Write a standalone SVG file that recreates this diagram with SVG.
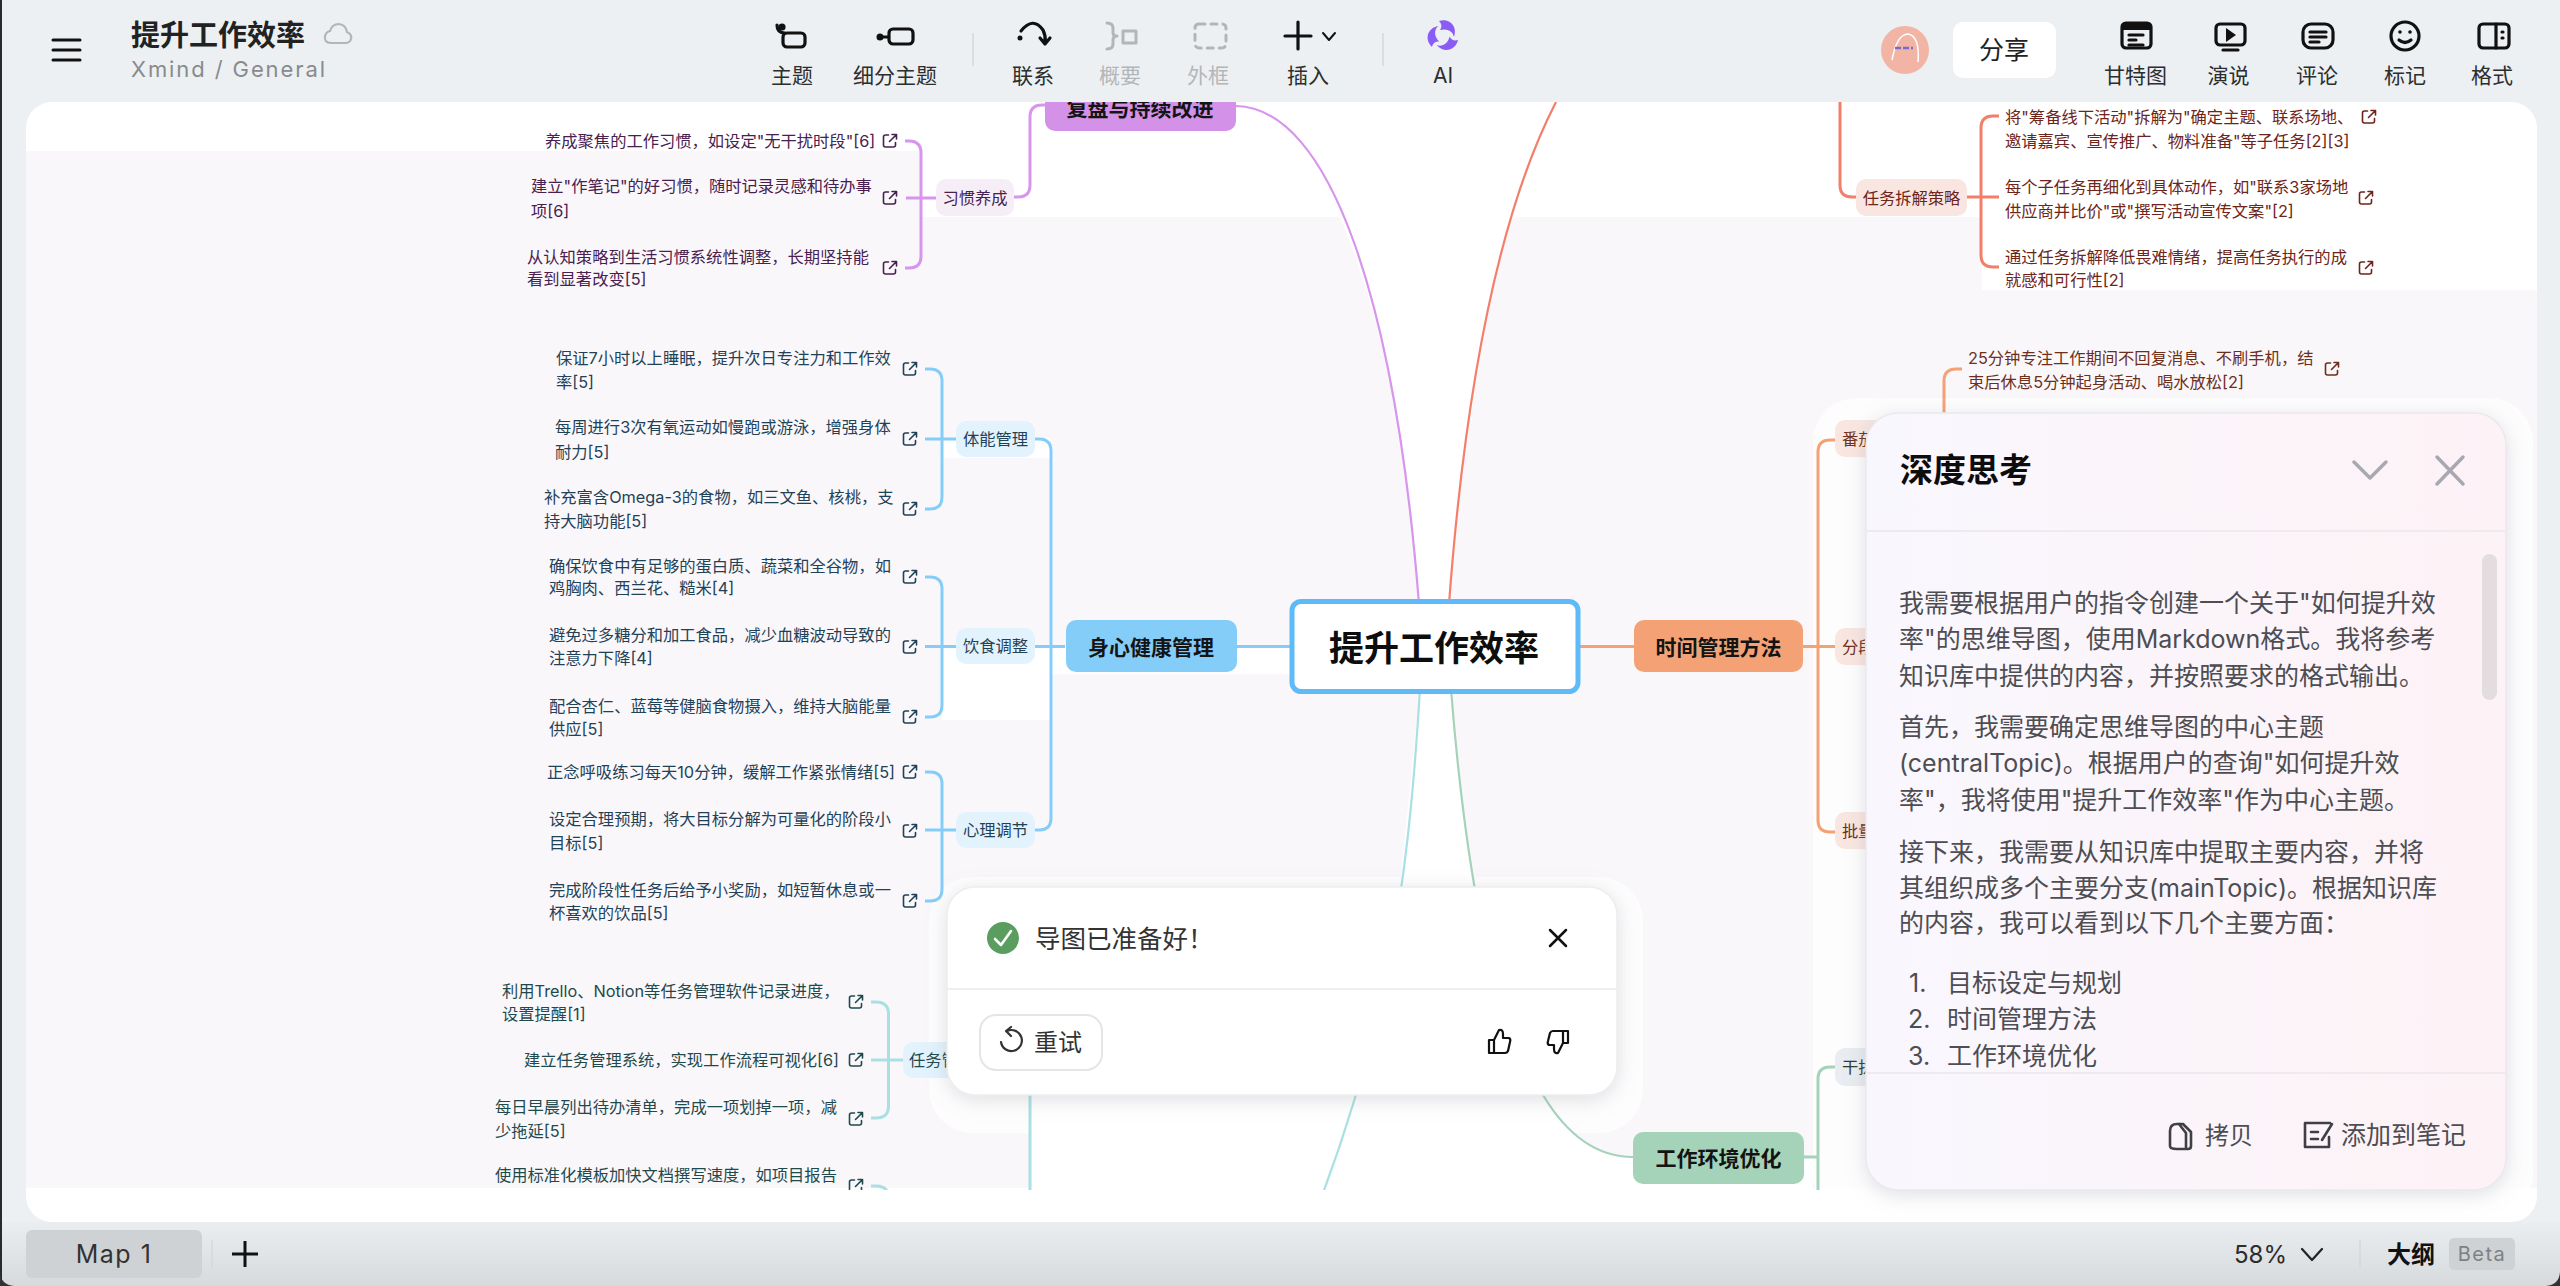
<svg xmlns="http://www.w3.org/2000/svg" width="2560" height="1286" viewBox="0 0 2560 1286">
<style>
text{font-family:"Inter","Noto Sans CJK SC",sans-serif;dominant-baseline:central}
.leaf{font-size:16.3px}
.sub{font-size:16.3px;text-anchor:middle}
.main{font-size:21px;font-weight:700;text-anchor:middle;fill:#141414}
.blue{fill:#1f4257}.blue-l{stroke:#85cdf9}
.teal{fill:#1e4a4d}.teal-l{stroke:#a9e0e3}
.pur{fill:#48204f}.pur-l{stroke:#d795ec}
.red{fill:#6e2418}.red-l{stroke:#f37f6b}
.org{fill:#6e2f1a}.org-l{stroke:#f4a275}
.grn-l{stroke:#a5d3b9}
.conn path{fill:none;stroke-width:3}
.conn path.thin{stroke-width:2.2}
.tb{font-size:21px;text-anchor:middle;fill:#2b2d2f}
.off{fill:#b3b6b9}
.ti{fill:none;stroke:#111;stroke-width:3.2;stroke-linecap:round;stroke-linejoin:round}
.tg{fill:none;stroke:#b3b6b9;stroke-width:3;stroke-linecap:round;stroke-linejoin:round}
.p{font-size:25px;fill:#4d4d52}
.lc{fill:none;stroke:#3f3f44;stroke-width:2.6;stroke-linecap:round;stroke-linejoin:round}
</style>
<defs>
<g id="ext" fill="none" stroke-width="1.6" stroke-linecap="round" stroke-linejoin="round"><path d="M-1.5 -6H-4.5Q-6.5 -6 -6.5 -4V4Q-6.5 6 -4.5 6H3.5Q5.5 6 5.5 4V1.5M-0.5 0.5L6 -6M2 -6.5H6.5V-2"/></g>
<path id="petal" d="M-4 -15C6 -18 15 -10 11 1C10 -5 4 -8 -3 -6C-1 -9 -1 -12 -4 -15Z" fill="#8a5cf5"/>
<linearGradient id="bar" x1="0" y1="0" x2="0" y2="1"><stop offset="0" stop-color="#eaeef0"/><stop offset="1" stop-color="#d6dadd"/></linearGradient>
<linearGradient id="pan" x1="0" y1="0" x2="1" y2="0"><stop offset="0" stop-color="#f9f7fe"/><stop offset="1" stop-color="#fdf2f6"/></linearGradient>
<filter id="sh" x="-10%" y="-15%" width="120%" height="130%"><feDropShadow dx="0" dy="4" stdDeviation="10" flood-color="#8a8f98" flood-opacity=".28"/></filter>
<clipPath id="cv"><rect x="26" y="102" width="2511" height="1088"/></clipPath>
</defs>
<rect width="2560" height="1286" fill="#ecf0f3"/>
<rect y="1222" width="2560" height="64" fill="url(#bar)"/>
<rect x="0" y="0" width="2" height="1286" fill="#2a2a2a"/>
<path d="M0 1286V1272Q1 1285 14 1286ZM2560 1286V1272Q2559 1285 2546 1286Z" fill="#333"/>
<rect x="26" y="102" width="2511" height="1120" rx="26" fill="#fff"/>
<g clip-path="url(#cv)">
<rect x="26" y="151" width="2511" height="1037" fill="#faf7fb"/>
<path fill="#fff" d="M921 151H1982V217H921ZM1982 151H2537V290H1982ZM1340 217C1380 310 1410 450 1419 604H1449C1460 480 1480 330 1510 217ZM1420 689H1451C1462 830 1490 1040 1543 1095C1570 1140 1600 1157 1633 1157V1190H1030V1097L1400 885ZM942 438H1050V458H942ZM942 647H1050V720H942ZM1052 647H1290V674H1052Z"/>
<rect x="1633" y="1157" width="180" height="33" fill="#fff"/>
<rect x="929" y="877" width="714" height="256" rx="44" fill="#fff" opacity=".75"/>
<rect x="1813" y="398" width="720" height="820" rx="44" fill="#fff" opacity=".75"/>
<g id="connectors" class="conn">
<path class="pur-l thin" d="M1236 106C1330 108 1395 300 1419 604"/>
<path class="red-l thin" d="M1449 604C1462 430 1490 230 1556 102"/>
<path class="teal-l thin" d="M1420 689C1410 850 1395 1000 1323 1193"/>
<path class="grn-l thin" d="M1451 689C1462 830 1490 1040 1543 1095C1570 1140 1600 1157 1633 1157"/>
<path class="blue-l" d="M1236 646.500H1290"/>
<path class="org-l" d="M1580 646.500H1634"/>
<path class="pur-l" d="M1045 105H1042Q1030 105 1030 117V185Q1030 197 1018 197H1014"/>
<path class="pur-l" d="M936 198H906M905 141H909Q921 141 921 153V256Q921 268 909 268H905"/>
<path class="blue-l" d="M1065 646.500H1035M1035 439H1039Q1051 439 1051 451V818Q1051 830 1039 830H1035"/>
<path class="blue-l" d="M956 439H925M925 369H930Q942 369 942 381V497Q942 509 930 509H925"/>
<path class="blue-l" d="M956 646.500H925M925 577H930Q942 577 942 589V705Q942 717 930 717H925"/>
<path class="blue-l" d="M956 830H925M925 772H930Q942 772 942 784V889Q942 901 930 901H925"/>
<path class="teal-l" d="M903 1060H871M871 1002H876Q888.500 1002 888.500 1014V1106Q888.500 1118 876 1118H871M871 1186H876Q888.500 1186 888.500 1198M1030 1060V1200"/>
<path class="red-l" d="M1840 102V185Q1840 197 1852 197H1856"/>
<path class="red-l" d="M1967 197H1999M1999 116H1993Q1981 116 1981 128V255Q1981 267 1993 267H1999"/>
<path class="org-l" d="M1803 646.500H1835M1835 440H1830Q1818 440 1818 452V820Q1818 832 1830 832H1835"/>
<path class="org-l" d="M1962 369H1956Q1944 369 1944 381V420"/>
<path class="grn-l" d="M1804 1157H1818M1835 1067H1830Q1818 1067 1818 1079V1200"/>
</g>
<g id="n-review"><rect x="1045" y="70" width="191" height="61" rx="10" fill="#d391e8"/><text class="main" x="1140" y="108">复盘与持续改进</text></g>
<g id="n-habit"><rect x="936" y="179" width="78" height="37" rx="10" fill="#f6eef7"/><text class="sub pur" x="975" y="198">习惯养成</text></g>
<g id="l-h1" class="pur"><text class="leaf" x="545" y="141">养成聚焦的工作习惯，如设定"无干扰时段"[6]</text><use href="#ext" x="890" y="141" stroke="#48204f"/></g>
<g id="l-h2" class="pur"><text class="leaf" x="531" y="186">建立"作笔记"的好习惯，随时记录灵感和待办事</text><text class="leaf" x="531" y="211">项[6]</text><use href="#ext" x="890" y="198" stroke="#48204f"/></g>
<g id="l-h3" class="pur"><text class="leaf" x="527" y="257">从认知策略到生活习惯系统性调整，长期坚持能</text><text class="leaf" x="527" y="279">看到显著改变[5]</text><use href="#ext" x="890" y="268" stroke="#48204f"/></g>

<g id="n-health"><rect x="1066" y="620" width="171" height="52" rx="10" fill="#85cdf9"/><text class="main" x="1151" y="647">身心健康管理</text></g>
<g id="n-body"><rect x="956" y="421" width="79" height="36" rx="10" fill="#e3f3fd"/><text class="sub blue" x="995.500" y="439">体能管理</text></g>
<g id="n-diet"><rect x="956" y="628" width="79" height="36" rx="10" fill="#e3f3fd"/><text class="sub blue" x="995.500" y="646">饮食调整</text></g>
<g id="n-mind"><rect x="956" y="812" width="79" height="36" rx="10" fill="#e3f3fd"/><text class="sub blue" x="995.500" y="830">心理调节</text></g>
<g id="l-b1" class="blue"><text class="leaf" x="556" y="358">保证7小时以上睡眠，提升次日专注力和工作效</text><text class="leaf" x="556" y="382">率[5]</text><use href="#ext" x="910" y="369" stroke="#1f4257"/></g>
<g id="l-b2" class="blue"><text class="leaf" x="555" y="427">每周进行3次有氧运动如慢跑或游泳，增强身体</text><text class="leaf" x="555" y="452">耐力[5]</text><use href="#ext" x="910" y="439" stroke="#1f4257"/></g>
<g id="l-b3" class="blue"><text class="leaf" x="544" y="497">补充富含Omega-3的食物，如三文鱼、核桃，支</text><text class="leaf" x="544" y="521">持大脑功能[5]</text><use href="#ext" x="910" y="509" stroke="#1f4257"/></g>
<g id="l-d1" class="blue"><text class="leaf" x="549" y="566">确保饮食中有足够的蛋白质、蔬菜和全谷物，如</text><text class="leaf" x="549" y="588">鸡胸肉、西兰花、糙米[4]</text><use href="#ext" x="910" y="577" stroke="#1f4257"/></g>
<g id="l-d2" class="blue"><text class="leaf" x="549" y="635">避免过多糖分和加工食品，减少血糖波动导致的</text><text class="leaf" x="549" y="658">注意力下降[4]</text><use href="#ext" x="910" y="647" stroke="#1f4257"/></g>
<g id="l-d3" class="blue"><text class="leaf" x="549" y="706">配合杏仁、蓝莓等健脑食物摄入，维持大脑能量</text><text class="leaf" x="549" y="729">供应[5]</text><use href="#ext" x="910" y="717" stroke="#1f4257"/></g>
<g id="l-m1" class="blue"><text class="leaf" x="547" y="772">正念呼吸练习每天10分钟，缓解工作紧张情绪[5]</text><use href="#ext" x="910" y="772" stroke="#1f4257"/></g>
<g id="l-m2" class="blue"><text class="leaf" x="549" y="819">设定合理预期，将大目标分解为可量化的阶段小</text><text class="leaf" x="549" y="843">目标[5]</text><use href="#ext" x="910" y="831" stroke="#1f4257"/></g>
<g id="l-m3" class="blue"><text class="leaf" x="549" y="890">完成阶段性任务后给予小奖励，如短暂休息或一</text><text class="leaf" x="549" y="913">杯喜欢的饮品[5]</text><use href="#ext" x="910" y="901" stroke="#1f4257"/></g>

<g id="n-task"><rect x="903" y="1042" width="90" height="36" rx="10" fill="#e3f3fd"/><text class="leaf teal" x="909" y="1060">任务管</text></g>
<g id="l-t1" class="teal"><text class="leaf" x="502" y="991">利用Trello、Notion等任务管理软件记录进度，</text><text class="leaf" x="502" y="1014">设置提醒[1]</text><use href="#ext" x="856" y="1002" stroke="#1e4a4d"/></g>
<g id="l-t2" class="teal"><text class="leaf" x="524" y="1060">建立任务管理系统，实现工作流程可视化[6]</text><use href="#ext" x="856" y="1060" stroke="#1e4a4d"/></g>
<g id="l-t3" class="teal"><text class="leaf" x="495" y="1107">每日早晨列出待办清单，完成一项划掉一项，减</text><text class="leaf" x="495" y="1131">少拖延[5]</text><use href="#ext" x="856" y="1119" stroke="#1e4a4d"/></g>
<g id="l-t4" class="teal"><text class="leaf" x="495" y="1175">使用标准化模板加快文档撰写速度，如项目报告</text><use href="#ext" x="856" y="1186" stroke="#1e4a4d"/></g>

<g id="n-center"><rect x="1292" y="601.500" width="286" height="90" rx="9" fill="#fff" stroke="#5ebbf8" stroke-width="5"/><text x="1434" y="647.500" font-size="35" font-weight="700" text-anchor="middle" fill="#0d0d0d">提升工作效率</text></g>
<g id="n-time"><rect x="1634" y="620" width="169" height="52" rx="10" fill="#f4a275"/><text class="main" x="1718.500" y="647">时间管理方法</text></g>
<g id="n-env"><rect x="1633" y="1132" width="171" height="52" rx="10" fill="#a5d3b9"/><text class="main" x="1718.500" y="1158">工作环境优化</text></g>
<g id="n-pomo"><rect x="1835" y="420" width="80" height="37" rx="10" fill="#f9e6e1"/><text class="leaf org" x="1842" y="439">番茄</text></g>
<g id="n-seg"><rect x="1835" y="628" width="80" height="37" rx="10" fill="#f9e6e1"/><text class="leaf org" x="1842" y="647">分段</text></g>
<g id="n-batch"><rect x="1835" y="812" width="80" height="37" rx="10" fill="#f9e6e1"/><text class="leaf org" x="1842" y="831">批量</text></g>
<g id="n-dist"><rect x="1835" y="1048" width="80" height="38" rx="10" fill="#e9ecf0"/><text class="leaf" fill="#2c3a33" x="1842" y="1067">干扰</text></g>
<g id="n-split"><rect x="1856" y="179" width="111" height="37" rx="10" fill="#f9e6e1"/><text class="sub red" x="1911.500" y="198">任务拆解策略</text></g>
<g id="l-s1" class="red"><text class="leaf" x="2005" y="117">将"筹备线下活动"拆解为"确定主题、联系场地、</text><text class="leaf" x="2005" y="141">邀请嘉宾、宣传推广、物料准备"等子任务[2][3]</text><use href="#ext" x="2369" y="117" stroke="#6e2418"/></g>
<g id="l-s2" class="red"><text class="leaf" x="2005" y="187">每个子任务再细化到具体动作，如"联系3家场地</text><text class="leaf" x="2005" y="211">供应商并比价"或"撰写活动宣传文案"[2]</text><use href="#ext" x="2366" y="198" stroke="#6e2418"/></g>
<g id="l-s3" class="red"><text class="leaf" x="2005" y="257">通过任务拆解降低畏难情绪，提高任务执行的成</text><text class="leaf" x="2005" y="280">就感和可行性[2]</text><use href="#ext" x="2366" y="268" stroke="#6e2418"/></g>
<g id="l-p1" class="org"><text class="leaf" x="1968" y="358">25分钟专注工作期间不回复消息、不刷手机，结</text><text class="leaf" x="1968" y="382">束后休息5分钟起身活动、喝水放松[2]</text><use href="#ext" x="2332" y="369" stroke="#6e2f1a"/></g>
</g>

<g id="toast">
<rect x="947" y="887" width="670" height="208" rx="28" fill="#fff" stroke="#eceded" stroke-width="1.500" filter="url(#sh)"/>
<circle cx="1003" cy="938" r="16" fill="#5a9e5f"/><path d="M995 939L1001 945L1011 931" fill="none" stroke="#fff" stroke-width="2.600" stroke-linecap="round" stroke-linejoin="round"/>
<text x="1035" y="938" font-size="25.500" fill="#333">导图已准备好！</text>
<path d="M1550 930L1566 946M1566 930L1550 946" stroke="#111" stroke-width="2.500" stroke-linecap="round"/>
<path d="M947 989H1617" stroke="#eceef0" stroke-width="2"/>
<rect x="980" y="1015" width="122" height="55" rx="16" fill="#fff" stroke="#e3e6e5" stroke-width="2"/>
<path d="M1007 1031A10.500 10.500 0 1 1 1001 1042M1011 1027L1006 1031L1011 1036" fill="none" stroke="#333" stroke-width="2.200" stroke-linecap="round" stroke-linejoin="round"/>
<text x="1034" y="1042" font-size="24" fill="#333">重试</text>
<path d="M1489 1040H1494V1053H1489ZM1494 1040L1499 1030Q1503 1029 1503 1034V1038H1509Q1511 1039 1510 1042L1508 1051Q1507 1053 1505 1053H1494" fill="none" stroke="#111" stroke-width="2.200" stroke-linejoin="round"/>
<path d="M1568 1043H1563V1031H1568ZM1563 1043L1558 1053Q1554 1054 1554 1049V1045H1549Q1547 1044 1548 1041L1550 1033Q1551 1031 1553 1031H1563" fill="none" stroke="#111" stroke-width="2.200" stroke-linejoin="round"/>
</g>

<g id="panel">
<rect x="1866" y="413" width="640" height="777" rx="32" fill="url(#pan)" stroke="#e9e9ee" stroke-width="1.500" filter="url(#sh)"/>
<text x="1900" y="470" font-size="33" font-weight="700" fill="#0d0d0d">深度思考</text>
<path d="M2354 462L2370 478L2386 462M2437 457L2463 484M2463 457L2437 484" fill="none" stroke="#a9a8b1" stroke-width="3.500" stroke-linecap="round" stroke-linejoin="round"/>
<path d="M1866 531H2506M1866 1073H2506" stroke="#f0eaf0" stroke-width="2"/>
<rect x="2482" y="554" width="15" height="146" rx="7.500" fill="#e3dde0"/>
<text class="p" x="1899" y="603">我需要根据用户的指令创建一个关于"如何提升效</text>
<text class="p" x="1899" y="639">率"的思维导图，使用Markdown格式。我将参考</text>
<text class="p" x="1899" y="676">知识库中提供的内容，并按照要求的格式输出。</text>
<text class="p" x="1899" y="727">首先，我需要确定思维导图的中心主题</text>
<text class="p" x="1899" y="763">(centralTopic)。根据用户的查询"如何提升效</text>
<text class="p" x="1899" y="800">率"，我将使用"提升工作效率"作为中心主题。</text>
<text class="p" x="1899" y="852">接下来，我需要从知识库中提取主要内容，并将</text>
<text class="p" x="1899" y="888">其组织成多个主要分支(mainTopic)。根据知识库</text>
<text class="p" x="1899" y="923">的内容，我可以看到以下几个主要方面：</text>
<text class="p" x="1909" y="983">1.</text><text class="p" x="1947" y="983">目标设定与规划</text>
<text class="p" x="1908" y="1019">2.</text><text class="p" x="1947" y="1019">时间管理方法</text>
<text class="p" x="1908" y="1056">3.</text><text class="p" x="1947" y="1056">工作环境优化</text>
<path class="lc" d="M2177 1124H2183L2191 1132V1146Q2191 1149 2188 1149H2177Q2170 1149 2170 1146V1131Q2170 1124 2177 1124ZM2179 1124L2186 1133V1148"/>
<text x="2205" y="1135" font-size="24" fill="#4d4d52">拷贝</text>
<path class="lc" d="M2330 1123H2305V1147H2329V1137M2311 1132H2318M2311 1139H2318M2322 1140L2332 1124"/>
<text x="2341" y="1135" font-size="25" fill="#4d4d52">添加到笔记</text>
</g>

<g id="toolbar">
<path d="M53 40H80M53 50H80M53 60H80" stroke="#111" stroke-width="3" stroke-linecap="round"/>
<text x="131" y="35" font-size="29" font-weight="700" fill="#222">提升工作效率</text>
<text x="131" y="69" font-size="22" letter-spacing="1.900" fill="#888b8e">Xmind / General</text>
<path d="M331 43Q324 43 325 36Q326 32 330 31Q332 24 339 24Q346 25 347 32Q352 34 351 39Q350 43 345 43Z" fill="none" stroke="#b3b6b9" stroke-width="2.200"/>
<g><path class="ti" d="M777 25Q777 33 785 33"/><circle cx="782" cy="27" r="3.600" fill="#111"/><rect class="ti" x="783" y="33" width="22" height="14" rx="4"/><text class="tb" x="792" y="75">主题</text></g>
<g><circle cx="880" cy="37" r="3.500" fill="#111"/><path class="ti" d="M880 37H888"/><rect class="ti" x="889" y="29" width="24" height="15" rx="4"/><text class="tb" x="895" y="75">细分主题</text></g>
<path d="M973 33V66M1383 33V66M2360 1240V1268" stroke="#d5d8da" stroke-width="1.500"/>
<g><path class="ti" d="M1021 31Q1033 16 1043 30Q1046 36 1045 42M1040 38L1045 44L1050 38"/><circle cx="1020" cy="38" r="2.500" fill="#111"/><text class="tb" x="1033" y="75">联系</text></g>
<g><path class="tg" d="M1107 23Q1113 23 1113 28V33Q1113 36 1117 36Q1113 36 1113 40V44Q1113 49 1107 49M1123 31H1136V43H1123Z"/><text class="tb off" x="1120" y="75">概要</text></g>
<g><rect class="tg" x="1195" y="24" width="31" height="24" rx="4" stroke-dasharray="6 6"/><text class="tb off" x="1208" y="75">外框</text></g>
<g><path class="ti" d="M1298 22V49M1285 36H1311"/><path d="M1323 33L1329 40L1335 33" fill="none" stroke="#111" stroke-width="2" stroke-linecap="round" stroke-linejoin="round"/><text class="tb" x="1308" y="75">插入</text></g>
<g><g transform="translate(1443 36)"><use href="#petal"/><use href="#petal" transform="rotate(120)"/><use href="#petal" transform="rotate(240)"/></g><text class="tb" x="1443" y="75">AI</text></g>
<g id="avatar"><circle cx="1905" cy="50" r="24" fill="#f2b5a5"/><path d="M1892 60Q1897 34 1908 34Q1920 36 1918 62" fill="none" stroke="#fff" stroke-width="1.500"/><path d="M1895 48H1913" stroke="#7a6ac8" stroke-width="2.500" stroke-dasharray="6 2"/></g>
<g id="share"><rect x="1953" y="22" width="103" height="56" rx="10" fill="#fff"/><text x="2004" y="50" font-size="25" text-anchor="middle" fill="#222">分享</text></g>
<g><rect class="ti" x="2122" y="23" width="29" height="25" rx="4"/><path d="M2122 27Q2122 22 2127 22H2146Q2151 22 2151 27V30H2122Z" fill="#111"/><path class="ti" stroke-width="2.400" d="M2129 35H2143M2129 40H2136M2129 45H2143"/><text class="tb" x="2135.500" y="75">甘特图</text></g>
<g><rect class="ti" x="2216" y="24" width="29" height="21" rx="4"/><path d="M2226 28L2236 35L2226 42Z" fill="#111"/><path class="ti" d="M2223 50H2238"/><text class="tb" x="2228.500" y="75">演说</text></g>
<g><rect class="ti" x="2303" y="24" width="30" height="24" rx="8"/><path class="ti" stroke-width="2.400" d="M2310 32H2326M2310 37H2326M2310 42H2319"/><text class="tb" x="2317" y="75">评论</text></g>
<g><circle class="ti" cx="2405" cy="36" r="14"/><circle cx="2400" cy="32" r="1.800" fill="#111"/><circle cx="2410" cy="32" r="1.800" fill="#111"/><path class="ti" stroke-width="2.400" d="M2399 40Q2405 45 2411 40"/><text class="tb" x="2405" y="75">标记</text></g>
<g><rect class="ti" x="2479" y="24" width="30" height="24" rx="4"/><path class="ti" d="M2496 24V48M2502 32H2503M2502 38H2503"/><text class="tb" x="2492" y="75">格式</text></g>
</g>

<g id="statusbar">
<rect x="26" y="1230" width="176" height="48" rx="6" fill="#cfd2d5"/>
<text x="114" y="1254" font-size="25" letter-spacing="1.500" text-anchor="middle" fill="#333">Map 1</text>
<path d="M212 1240V1268" stroke="#d5d8da" stroke-width="1.500"/>
<path d="M245 1241V1267M232 1254H258" stroke="#111" stroke-width="3"/>
<text x="2234" y="1254" font-size="24" fill="#2b2d2f">58%</text>
<path d="M2302 1249L2312 1260L2322 1249" fill="none" stroke="#222" stroke-width="2.200" stroke-linecap="round" stroke-linejoin="round"/>
<text x="2387" y="1254" font-size="24" font-weight="700" fill="#111">大纲</text>
<rect x="2449" y="1238" width="66" height="32" rx="5" fill="#cfd2d5"/>
<text x="2482" y="1254" font-size="20" letter-spacing="1.500" text-anchor="middle" fill="#7d8184">Beta</text>
</g>
</svg>
